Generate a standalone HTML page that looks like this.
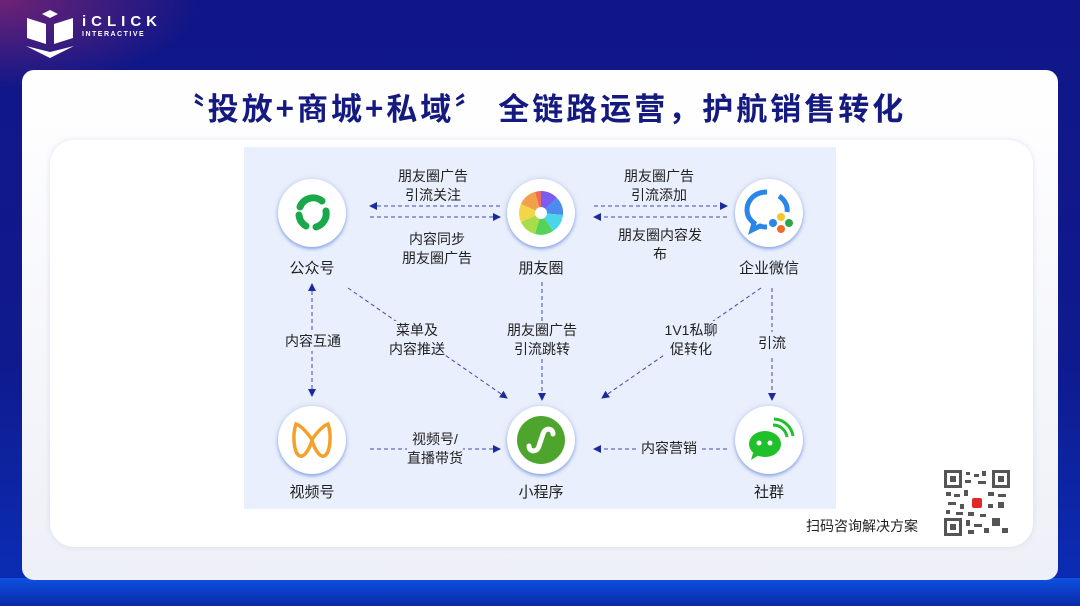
<!DOCTYPE html>
<html><head><meta charset="utf-8"><style>
*{margin:0;padding:0;box-sizing:border-box}
body{width:1080px;height:606px;overflow:hidden;background:linear-gradient(180deg,#101687 0%,#0f1a8e 60%,#0a2fb8 100%);font-family:"Liberation Sans","Noto Sans CJK SC",sans-serif;position:relative}
.glow{position:absolute;left:0;top:0;width:200px;height:90px;background:radial-gradient(ellipse at 0 0,rgba(150,40,110,.7),rgba(150,40,110,0) 70%)}
.bottomglow{position:absolute;left:0;top:578px;width:1080px;height:28px;background:linear-gradient(180deg,#0e50e0,#0a2aa8)}
.panel{position:absolute;left:22px;top:70px;width:1036px;height:510px;border-radius:12px;background:linear-gradient(180deg,#ffffff 0%,#eef0f7 100%)}
.card{position:absolute;left:50px;top:140px;width:983px;height:407px;border-radius:24px;background:#fff;box-shadow:0 0 6px rgba(180,190,220,.4)}
.title{position:absolute;left:0;top:84px;width:1080px;text-align:center;font-size:31px;font-weight:bold;color:#141a80;letter-spacing:3px;font-family:"Noto Sans CJK SC",sans-serif}
.box{position:absolute;left:244px;top:147px;width:592px;height:362px;background:#e9effc}
.t{position:absolute;font-size:14px;color:#222;text-align:center;line-height:19px;white-space:nowrap;transform:translateX(-50%)}
.ic{position:absolute;width:68px;height:68px;border-radius:50%;background:#fff;box-shadow:0 2px 3px rgba(90,130,220,.6),0 0 6px rgba(150,170,220,.4)}
</style></head><body>
<div class="glow"></div>
<div class="bottomglow"></div>
<svg style="position:absolute;left:24px;top:8px" width="60" height="54" viewBox="0 0 60 54">
<polygon points="26,2 34,6 26,10 18,6" fill="#fff"/>
<polygon points="3,10 22,16 22,36 3,30" fill="#fff"/>
<polygon points="30,16 49,10 49,30 30,36" fill="#fff"/>
<polygon points="2,38 26,50 50,38 26,44" fill="#fff"/>
</svg>
<div style="position:absolute;left:82px;top:13px;color:#fff;font-weight:bold;font-size:15px;letter-spacing:5px">iCLICK</div>
<div style="position:absolute;left:82px;top:31px;color:#fff;font-size:7px;letter-spacing:1.5px;font-weight:bold">INTERACTIVE</div>
<div class="panel"></div>
<div class="title">〝投放+商城+私域〞 全链路运营，护航销售转化</div>
<div class="card"></div>
<div class="box"></div>
<svg style="position:absolute;left:0;top:0" width="1080" height="606">
<defs><marker id="a" markerWidth="8" markerHeight="8" refX="7" refY="4" orient="auto" markerUnits="userSpaceOnUse"><path d="M0,0 L8,4 L0,8 Z" fill="#1d2a9e"/></marker></defs>
<g stroke="#3d4ab0" stroke-width="1" stroke-dasharray="4,3" fill="none" marker-end="url(#a)">
<line x1="500" y1="206" x2="370" y2="206"/>
<line x1="370" y1="217" x2="500" y2="217"/>
<line x1="594" y1="206" x2="727" y2="206"/>
<line x1="727" y1="217" x2="594" y2="217"/>
<line x1="312" y1="330" x2="312" y2="284"/>
<line x1="312" y1="350" x2="312" y2="396"/>
<line x1="542" y1="282" x2="542" y2="400"/>
<line x1="348" y1="288" x2="507" y2="398"/>
<line x1="761" y1="288" x2="602" y2="398"/>
<line x1="772" y1="288" x2="772" y2="400"/>
<line x1="370" y1="449" x2="500" y2="449"/>
<line x1="727" y1="449" x2="594" y2="449"/>
</g>
</svg>
<div class="ic" style="left:278px;top:179px"><svg width="68" height="68" viewBox="0 0 68 68"><g fill="none" stroke="#1aa84a" stroke-width="7" stroke-linecap="round"><path d="M22,28 A14,14 0 0 1 44,22"/><path d="M48,32 A14,14 0 0 1 38,48"/><path d="M28,47 A14,14 0 0 1 21,36"/></g></svg></div>
<div class="ic" style="left:507px;top:179px"><svg width="68" height="68" viewBox="0 0 68 68"><g transform="translate(34,34)"><path d="M0,0 L0,-22 A22,22 0 0 1 16,-15Z" fill="#7a5cf0"/><path d="M0,0 L16,-15 A22,22 0 0 1 22,2Z" fill="#4a8cf0"/><path d="M0,0 L22,2 A22,22 0 0 1 12,18Z" fill="#4ad6e8"/><path d="M0,0 L12,18 A22,22 0 0 1 -6,21Z" fill="#54d25a"/><path d="M0,0 L-6,21 A22,22 0 0 1 -20,9Z" fill="#a8dc48"/><path d="M0,0 L-20,9 A22,22 0 0 1 -20,-9Z" fill="#f2d64a"/><path d="M0,0 L-20,-9 A22,22 0 0 1 -6,-21Z" fill="#f2a04a"/><path d="M0,0 L-6,-21 A22,22 0 0 1 0,-22Z" fill="#f06a5a"/><circle r="6" fill="#fff"/></g></svg></div>
<div class="ic" style="left:735px;top:179px"><svg width="68" height="68" viewBox="0 0 68 68"><path d="M32,13 C19,13 12,22 12,31 C12,37 15,41 19,44 L17,51 L25,47 C27,48 30,48 32,48" fill="none" stroke="#2a86e8" stroke-width="5"/><path d="M44,17 C50,21 53,27 52,33" fill="none" stroke="#2a86e8" stroke-width="5"/><circle cx="46" cy="38" r="4" fill="#f5c52a"/><circle cx="54" cy="44" r="4" fill="#2aa84a"/><circle cx="46" cy="50" r="4" fill="#f06a2a"/><circle cx="38" cy="44" r="4" fill="#2a86e8"/></svg></div>
<div class="ic" style="left:278px;top:406px"><svg width="68" height="68" viewBox="0 0 68 68"><path d="M18,18 C14,30 16,48 22,50 C28,52 34,36 34,34 C34,36 40,52 46,50 C52,48 54,30 50,18 C44,20 36,30 34,34 C32,30 24,20 18,18Z" fill="none" stroke="#f5a02a" stroke-width="3.5"/></svg></div>
<div class="ic" style="left:507px;top:406px"><svg width="68" height="68" viewBox="0 0 68 68"><circle cx="34" cy="34" r="24" fill="#4ea52e"/><path d="M22,40 C22,46 30,47 32,40 L36,28 C38,21 46,22 46,28" fill="none" stroke="#fff" stroke-width="5" stroke-linecap="round"/></svg></div>
<div class="ic" style="left:735px;top:406px"><svg width="68" height="68" viewBox="0 0 68 68"><ellipse cx="30" cy="38" rx="16" ry="13" fill="#1fc02a"/><path d="M18,47 L16,54 L24,49Z" fill="#1fc02a"/><circle cx="24" cy="37" r="2.5" fill="#fff"/><circle cx="35" cy="37" r="2.5" fill="#fff"/><path d="M38,19 A14,14 0 0 1 52,31" fill="none" stroke="#1fc02a" stroke-width="3"/><path d="M39,13 A20,20 0 0 1 58,30" fill="none" stroke="#1fc02a" stroke-width="3"/></svg></div>
<div class="t" style="left:312px;top:259px;font-size:15px">公众号</div>
<div class="t" style="left:541px;top:259px;font-size:15px">朋友圈</div>
<div class="t" style="left:769px;top:259px;font-size:15px">企业微信</div>
<div class="t" style="left:312px;top:483px;font-size:15px">视频号</div>
<div class="t" style="left:541px;top:483px;font-size:15px">小程序</div>
<div class="t" style="left:769px;top:483px;font-size:15px">社群</div>
<div class="t" style="left:433px;top:167px">朋友圈广告<br>引流关注</div>
<div class="t" style="left:437px;top:230px">内容同步<br>朋友圈广告</div>
<div class="t" style="left:659px;top:167px">朋友圈广告<br>引流添加</div>
<div class="t" style="left:660px;top:226px">朋友圈内容发<br>布</div>
<div class="t" style="left:313px;top:332px;background:#e9effc;padding:0 2px">内容互通</div>
<div class="t" style="left:417px;top:321px;background:#e9effc">菜单及<br>内容推送</div>
<div class="t" style="left:542px;top:321px;background:#e9effc">朋友圈广告<br>引流跳转</div>
<div class="t" style="left:691px;top:321px;background:#e9effc">1V1私聊<br>促转化</div>
<div class="t" style="left:772px;top:332px;background:#e9effc;padding:2px 0">引流</div>
<div class="t" style="left:435px;top:430px;background:#e9effc">视频号/<br>直播带货</div>
<div class="t" style="left:669px;top:439px;background:#e9effc;padding:0 4px">内容营销</div>
<div class="t" style="left:862px;top:517px;font-size:14px">扫码咨询解决方案</div>
<svg style="position:absolute;left:944px;top:470px" width="66" height="66" viewBox="0 0 66 66">
<rect width="66" height="66" fill="#fff"/>
<g fill="#555">
<rect x="0" y="0" width="18" height="18"/><rect x="48" y="0" width="18" height="18"/><rect x="0" y="48" width="18" height="18"/>
</g>
<g fill="#fff"><rect x="3" y="3" width="12" height="12"/><rect x="51" y="3" width="12" height="12"/><rect x="3" y="51" width="12" height="12"/></g>
<g fill="#555"><rect x="6" y="6" width="6" height="6"/><rect x="54" y="6" width="6" height="6"/><rect x="6" y="54" width="6" height="6"/>
<rect x="22" y="2" width="4" height="3"/><rect x="30" y="4" width="5" height="3"/><rect x="38" y="1" width="4" height="5"/><rect x="21" y="10" width="6" height="3"/><rect x="34" y="11" width="8" height="3"/>
<rect x="2" y="22" width="5" height="4"/><rect x="10" y="24" width="6" height="3"/><rect x="20" y="20" width="4" height="6"/><rect x="44" y="22" width="6" height="4"/><rect x="54" y="24" width="8" height="3"/>
<rect x="4" y="32" width="8" height="3"/><rect x="16" y="34" width="4" height="5"/><rect x="44" y="34" width="5" height="4"/><rect x="54" y="32" width="6" height="6"/>
<rect x="2" y="40" width="4" height="4"/><rect x="12" y="42" width="7" height="3"/><rect x="24" y="42" width="6" height="4"/><rect x="36" y="44" width="6" height="3"/><rect x="48" y="48" width="8" height="8"/>
<rect x="22" y="50" width="4" height="6"/><rect x="30" y="54" width="8" height="3"/><rect x="40" y="58" width="5" height="5"/><rect x="24" y="60" width="6" height="4"/><rect x="58" y="58" width="6" height="5"/>
</g>
<rect x="28" y="28" width="10" height="10" fill="#e02a2a" rx="2"/>
</svg>
</body></html>
